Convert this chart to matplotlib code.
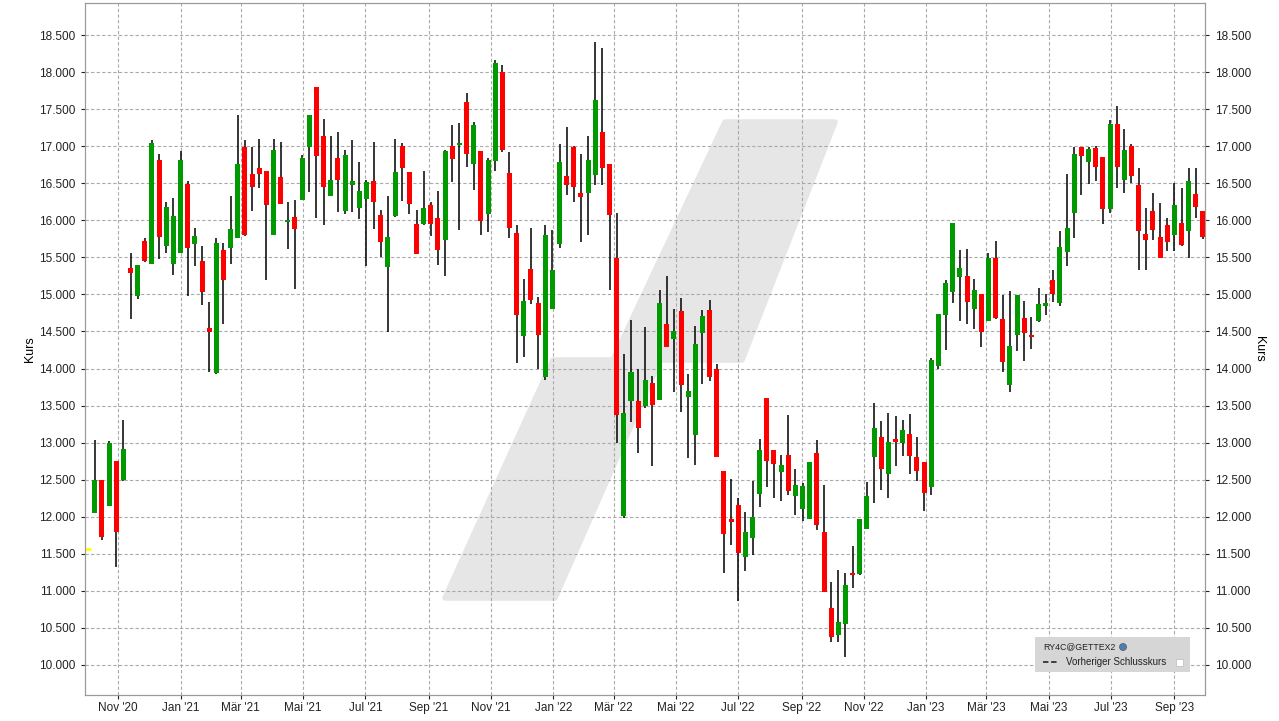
import matplotlib.pyplot as plt
from matplotlib.patches import Polygon, Rectangle, Ellipse
from matplotlib.lines import Line2D
from matplotlib.ticker import MultipleLocator, FuncFormatter
import pandas as pd
import numpy as np

plt.rcParams['font.family'] = ['Liberation Sans', 'DejaVu Sans']

# weekly candles, RY4C@GETTEX2
first_week = '2020-10-09'

opens = [12050, 12500, 12145, 12750, 12495, 15355, 14980, 15720, 15415, 16810,
         15650, 15415, 15565, 16490, 15680, 15450, 14545, 13940, 15600, 15630,
         15765, 16990, 16625, 16705, 16665, 15805, 16585, 15980, 16045, 16275,
         16995, 17800, 17140, 16330, 16840, 16130, 16470, 16170, 16290, 16530,
         16070, 15370, 16060, 17005, 16655, 15950, 15950, 16205, 16030, 15735,
         17005, 17020, 17600, 16765, 16935, 16090, 16805, 18005, 16640, 15830,
         14440, 15340, 14885, 13890, 14805, 15675, 16600, 16990, 16370, 16370,
         16615, 17195, 16760, 15490, 12010, 13565, 13560, 13495, 13800, 13580,
         14600, 14400, 14775, 13615, 13105, 14480, 14790, 13990, 12615, 11965,
         12165, 11455, 11710, 12305, 13600, 12895, 12605, 12830, 12280, 12105,
         11970, 12855, 11800, 10775, 10400, 10550, 11235, 11225, 11835, 12805,
         13070, 12575, 13045, 12995, 13110, 12800, 12735, 12400, 14035, 14725,
         15035, 15240, 15250, 14805, 15005, 14645, 15490, 14665, 13780, 14455,
         14680, 14450, 14645, 14850, 15195, 14880, 15570, 16100, 16990, 16790,
         16975, 16855, 16155, 17300, 16545, 17005, 16470, 15820, 16130, 15780,
         15940, 15805, 15970, 15860, 16360, 16130]
highs = [13030, 12500, 13020, 12750, 13300, 15555, 15400, 15760, 17080, 16900,
         16250, 16300, 16940, 16530, 15895, 15655, 14895, 15760, 15690, 16330,
         17425, 17085, 16990, 17100, 16665, 17100, 17060, 16250, 16275, 16885,
         17425, 17800, 17370, 17140, 17195, 16950, 17085, 16790, 16545, 17060,
         16140, 16330, 17100, 17045, 16655, 16140, 16665, 16250, 16395, 16950,
         17290, 17315, 17720, 17330, 16935, 16840, 18165, 18100, 16925, 15935,
         15205, 15895, 14965, 15935, 15870, 17030, 17260, 17005, 16895, 17140,
         18410, 18330, 16760, 16100, 14195, 14655, 13990, 14560, 13895, 15060,
         15250, 14800, 14950, 13925, 14570, 14790, 14925, 14060, 12615, 12505,
         12250, 12060, 12480, 13045, 13600, 12895, 12830, 13370, 12640, 12450,
         12735, 13030, 12435, 11115, 11275, 11235, 11605, 11975, 12465, 13530,
         13290, 13395, 13355, 13300, 13385, 13070, 12735, 14140, 14735, 15195,
         15965, 15600, 15615, 15205, 15005, 15560, 15720, 14990, 15045, 14990,
         14910, 14695, 15085, 15000, 15330, 15855, 16625, 16990, 16990, 16990,
         17005, 16855, 17355, 17545, 17235, 17030, 16700, 16170, 16375, 16240,
         16035, 16510, 16430, 16700, 16700, 16130]
lows = [12050, 11690, 12145, 11320, 12480, 14670, 14940, 15440, 15415, 15475,
        15560, 15265, 15560, 14980, 15385, 14860, 13955, 13930, 14605, 15415,
        15765, 15790, 16130, 16440, 15200, 15795, 16225, 15615, 15070, 16275,
        16385, 16030, 15935, 16330, 16115, 16085, 16115, 16020, 15385, 15885,
        15505, 14490, 16045, 16260, 16085, 15545, 15935, 15790, 15395, 15250,
        16520, 15870, 16720, 16410, 15795, 15845, 16660, 16920, 15765, 14075,
        14160, 14875, 13995, 13845, 14805, 15630, 16340, 16250, 15710, 15795,
        16475, 16470, 15065, 12995, 11985, 13280, 12860, 13470, 12685, 13570,
        14290, 13685, 13415, 12795, 12700, 13795, 13835, 12805, 11240, 11615,
        10870, 11265, 11480, 12130, 12400, 12250, 12210, 12295, 12025, 11940,
        11970, 11820, 10980, 10305, 10305, 10105, 11035, 11210, 11835, 12185,
        12360, 12250, 12685, 12820, 12575, 12480, 12075, 12295, 14000, 14250,
        14885, 14645, 14605, 14535, 14295, 14645, 14670, 13955, 13685, 14240,
        14105, 14265, 14630, 14720, 14900, 14850, 15385, 15760, 16340, 16495,
        16530, 15950, 16100, 16435, 16370, 16505, 15335, 15335, 15740, 15485,
        15590, 15590, 15660, 15495, 16025, 15750]
closes = [12500, 11725, 13000, 11795, 12910, 15295, 15395, 15455, 17040, 15770,
          16180, 16060, 16815, 15630, 15790, 15035, 14495, 15695, 15195, 15885,
          16760, 15800, 16455, 16630, 16210, 16950, 16225, 16005, 15885, 16840,
          17420, 16870, 16450, 16545, 16550, 16880, 16530, 16395, 16520, 16250,
          15705, 15775, 16655, 16705, 16220, 15545, 16165, 15950, 15600, 16935,
          16830, 17045, 16895, 17290, 15995, 16815, 18125, 16945, 15900, 14725,
          14910, 14930, 14455, 15800, 15335, 16790, 16480, 16455, 16320, 16815,
          17625, 16710, 16065, 13375, 13395, 13950, 13200, 13840, 13510, 14885,
          14295, 14500, 13780, 13695, 14330, 14705, 13885, 12805, 11765, 11930,
          11510, 11800, 11990, 12895, 12750, 12710, 12705, 12345, 12425, 12410,
          12735, 11885, 10980, 10375, 10585, 11085, 11210, 11975, 12275, 13195,
          12645, 13005, 13010, 13165, 12820, 12615, 12320, 14120, 14735, 15155,
          15965, 15355, 14900, 15060, 14495, 15490, 14685, 14090, 14300, 14990,
          14480, 14430, 14870, 14890, 15000, 15640, 15895, 16895, 16870, 16965,
          16720, 16155, 17300, 16720, 16950, 16595, 15850, 15730, 15875, 15485,
          15710, 16210, 15670, 16525, 16185, 15780]

prev_close = 11570

tick_months = ['2020-11-01', '2021-01-01', '2021-03-01', '2021-05-01', '2021-07-01',
               '2021-09-01', '2021-11-01', '2022-01-01', '2022-03-01', '2022-05-01',
               '2022-07-01', '2022-09-01', '2022-11-01', '2023-01-01', '2023-03-01',
               '2023-05-01', '2023-07-01', '2023-09-01']
tick_labels = ["Nov '20", "Jan '21", "Mär '21", "Mai '21", "Jul '21", "Sep '21",
               "Nov '21", "Jan '22", "Mär '22", "Mai '22", "Jul '22", "Sep '22",
               "Nov '22", "Jan '23", "Mär '23", "Mai '23", "Jul '23", "Sep '23"]

W, H = 1279, 721
fig = plt.figure(figsize=(W / 100, H / 100), dpi=100)
ax = fig.add_axes([85 / W, 26 / H, 1120 / W, 692 / H])

dates = pd.date_range(first_week, periods=len(opens), freq='7D')
o = np.array(opens)
c = np.array(closes)
colors = ['#009a00' if cc >= oo else '#ff0000' for oo, cc in zip(o, c)]


# background logo, in axes fractions from pixel outline
def axpt(px, py):
    return ((px - 85) / 1120, (695 - py) / 692)


logo_parts = [
    [(445, 598), (555, 598), (660, 360), (553, 360)],
    [(613, 360), (742, 360), (835, 122), (725, 122)],
]
for part in logo_parts:
    ax.add_patch(Polygon([axpt(*p) for p in part], closed=True, transform=ax.transAxes,
                         facecolor='#e6e6e6', edgecolor='#e6e6e6', lw=4,
                         joinstyle='round', zorder=0.2))

ax.vlines(dates, lows, highs, color='black', lw=1.1, zorder=2)
ax.bar(dates, np.maximum(np.abs(c - o), 25), bottom=np.minimum(o, c), width=4.9,
       color=colors, zorder=3)

ax.hlines(prev_close, pd.Timestamp('2020-09-29'), pd.Timestamp('2020-10-05'),
          color='#ffff00', lw=2, zorder=3)

ax.set_xlim(pd.Timestamp('2020-09-29 10:00'), pd.Timestamp('2023-10-01'))
ax.set_ylim(9595, 18932)

fmt = FuncFormatter(lambda v, p: f'{v:,.0f}'.replace(',', '.'))
ax.yaxis.set_major_locator(MultipleLocator(500))
ax.yaxis.set_major_formatter(fmt)
ax.set_xticks(pd.to_datetime(tick_months))
ax.set_xticklabels(tick_labels)

ax.set_axisbelow(True)
ax.grid(True, color='#aaaaaa', ls=(0, (3, 2)), lw=0.8)
for s in ax.spines.values():
    s.set_color('#9a9a9a')
ax.tick_params(labelsize=8.5, colors='#222222', length=3, pad=4)
ax.tick_params(axis='x', pad=2)
ax.set_ylabel('Kurs', fontsize=9, labelpad=2)

ax2 = ax.twinx()
ax2.set_ylim(ax.get_ylim())
ax2.yaxis.set_major_locator(MultipleLocator(500))
ax2.yaxis.set_major_formatter(fmt)
ax2.tick_params(labelsize=8.5, colors='#222222', length=3, pad=4)
ax2.set_ylabel('Kurs', fontsize=9, rotation=270, labelpad=10)
for s in ax2.spines.values():
    s.set_color('#9a9a9a')


# legend box
def fx(px):
    return px / W


def fy(py):
    return 1 - py / H


fig.add_artist(Rectangle((fx(1035), fy(672)), 155 / W, 35 / H, transform=fig.transFigure,
                         facecolor='#d6d6d6', edgecolor='none', zorder=5))
fig.text(fx(1043), fy(647), 'RY4C@GETTEX2', fontsize=6.3, va='center', ha='left',
         color='#222222', zorder=6)
fig.add_artist(Ellipse((fx(1123), fy(647)), 7 / W, 7 / H, transform=fig.transFigure,
                       facecolor='#4a7fb5', edgecolor='#555555', lw=0.5, zorder=6))
fig.add_artist(Line2D([fx(1043), fx(1059)], [fy(662), fy(662)], transform=fig.transFigure,
                      color='#333333', ls=(0, (3, 1.5)), lw=1.3, zorder=6))
fig.text(fx(1066), fy(662), 'Vorheriger Schlusskurs', fontsize=7.0, va='center',
         ha='left', color='#222222', zorder=6)
fig.add_artist(Rectangle((fx(1176), fy(666)), 7 / W, 7 / H, transform=fig.transFigure,
                         facecolor='white', edgecolor='#bbbbbb', lw=0.5, zorder=6))

fig.savefig('out.png', dpi=100)
